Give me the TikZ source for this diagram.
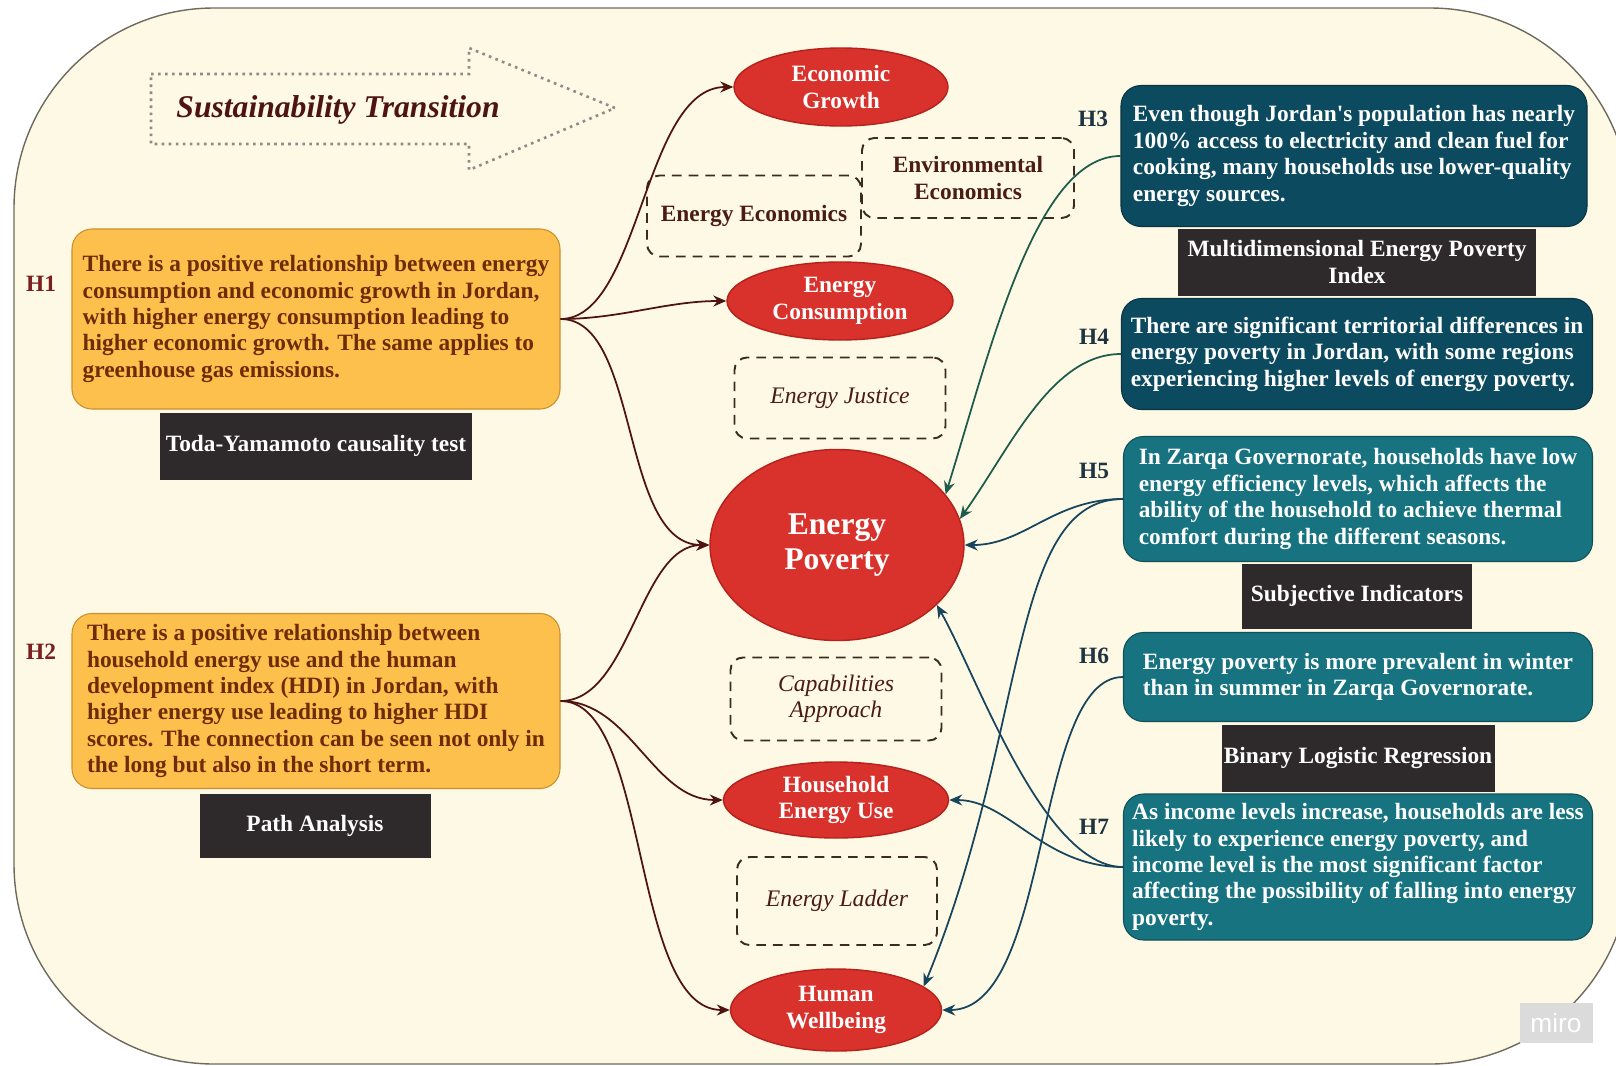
\documentclass[tikz,border=0pt]{standalone}
\usepackage{fontspec}
\setmainfont{Liberation Serif}
\newfontfamily\wmfont{Liberation Sans}
\usetikzlibrary{shapes.geometric, arrows.meta, calc}

\definecolor{cream}{HTML}{FEF9E4}
\definecolor{framecol}{HTML}{6E6A5E}
\definecolor{conceptred}{HTML}{D9312B}
\definecolor{conceptedge}{HTML}{B3221D}
\definecolor{hyporange}{HTML}{FDC04D}
\definecolor{hypedge}{HTML}{C98F2E}
\definecolor{hyptext}{HTML}{6E2C06}
\definecolor{darkteal}{HTML}{0C4A5F}
\definecolor{midteal}{HTML}{17737F}
\definecolor{methodcol}{HTML}{2E2A2B}
\definecolor{linkmaroon}{HTML}{4E1410}
\definecolor{linkgreen}{HTML}{1D5C4C}
\definecolor{linkblue}{HTML}{17455E}
\definecolor{dashcol}{HTML}{3B2B22}
\definecolor{theorytext}{HTML}{4A1C12}
\definecolor{hlabelL}{HTML}{7A1F1F}
\definecolor{hlabelR}{HTML}{1E3440}

\def\pxu{0.2mm}
\def\bodyfont{\fontsize{13.3}{15}\selectfont\bfseries}

\tikzset{
  hyp/.style={draw=hypedge, line width=0.6pt, fill=hyporange, rounded corners=4mm,
    align=left, text=hyptext, font=\bodyfont, inner sep=0pt, minimum width=488*\pxu},
  hypR/.style={draw=darkteal!70!black, line width=0.6pt, fill=darkteal, rounded corners=4mm,
    align=left, text=white, font=\bodyfont, inner sep=0pt},
  method/.style={fill=methodcol, text=white, font=\bodyfont, align=center, inner sep=0pt},
  concept/.style={ellipse, draw=conceptedge, line width=0.8pt, fill=conceptred, text=white,
    font=\bodyfont, align=center, inner sep=0pt, minimum width=214*\pxu, minimum height=78*\pxu},
  theory/.style={draw=dashcol, line width=1.1pt, dash pattern=on 5.5pt off 4pt,
    rounded corners=2.5mm, align=center, text=theorytext, font=\bodyfont, inner sep=0pt},
  hlab/.style={font=\bodyfont},
  lnkL/.style={draw=linkmaroon, line width=1pt, -{Stealth[length=2.6mm,width=2.2mm]}},
  lnkG/.style={draw=linkgreen, line width=1pt, -{Stealth[length=2.6mm,width=2.2mm]}},
  lnkB/.style={draw=linkblue, line width=1pt, -{Stealth[length=2.6mm,width=2.2mm]}}
}

\begin{document}
\begin{tikzpicture}[x=0.2mm, y=-0.2mm]

\useasboundingbox (0,0) rectangle (1616,1065);

% frame
\draw[draw=framecol, line width=0.8pt, fill=cream, rounded corners=40mm] (14,8) rectangle (1630,1064);

% watermark
\node[fill=black!14, text=white, font=\wmfont\fontsize{15}{15}\selectfont,
  minimum width=73*\pxu, minimum height=40*\pxu, inner sep=0pt] (miro) at (1556,1023) {miro};

% transition arrow
\draw[draw=black!45, line width=1.5pt, dash pattern=on 1.5pt off 2.5pt]
  (151,74) -- (469,74) -- (469,48) -- (615,108) -- (469,170) -- (469,144) -- (151,144) -- cycle;
\node[text=linkmaroon, font=\fontsize{18}{20}\selectfont\bfseries\itshape] (trans) at (338,110) {Sustainability Transition};

% methods (behind the hypotheses)
\node[method, minimum width=312*\pxu, minimum height=67*\pxu] (toda) at (316,446) {Toda-Yamamoto causality test};
\node[method, minimum width=231*\pxu, minimum height=64*\pxu] (patha) at (315,826) {Path Analysis};
\node[method, minimum width=358*\pxu, minimum height=67*\pxu] (mepi) at (1357,262) {Multidimensional Energy Poverty\\Index};
\node[method, minimum width=230*\pxu, minimum height=65*\pxu] (subj) at (1357,596) {Subjective Indicators};
\node[method, minimum width=273*\pxu, minimum height=67*\pxu] (blr) at (1358,758) {Binary Logistic Regression};

% hypotheses, left
\node[hyp, minimum height=180*\pxu] (h1) at (316,319) {There is a positive relationship between energy\\consumption and economic growth in Jordan,\\with higher energy consumption leading to\\higher economic growth. The same applies to\\greenhouse gas emissions.};
\node[hyp, minimum height=175*\pxu] (h2) at (316,701) {There is a positive relationship between\\household energy use and the human\\development index (HDI) in Jordan, with\\higher energy use leading to higher HDI\\scores. The connection can be seen not only in\\the long but also in the short term.};

% hypotheses, right
\node[hypR, minimum width=466*\pxu, minimum height=141*\pxu] (h3) at (1354,156) {Even though Jordan\textquotesingle s population has nearly\\100\% access to electricity and clean fuel for\\cooking, many households use lower-quality\\energy sources.};
\node[hypR, minimum width=471*\pxu, minimum height=111*\pxu] (h4) at (1357,354) {There are significant territorial differences in\\energy poverty in Jordan, with some regions\\experiencing higher levels of energy poverty.};
\node[hypR, fill=midteal, draw=midteal!70!black, minimum width=469*\pxu, minimum height=125*\pxu] (h5) at (1358,499) {In Zarqa Governorate, households have low\\energy efficiency levels, which affects the\\ability of the household to achieve thermal\\comfort during the different seasons.};
\node[hypR, fill=midteal, draw=midteal!70!black, minimum width=469*\pxu, minimum height=89*\pxu] (h6) at (1358,677) {Energy poverty is more prevalent in winter\\than in summer in Zarqa Governorate.};
\node[hypR, fill=midteal, draw=midteal!70!black, minimum width=469*\pxu, minimum height=146*\pxu] (h7) at (1358,867) {As income levels increase, households are less\\likely to experience energy poverty, and\\income level is the most significant factor\\affecting the possibility of falling into energy\\poverty.};

% labels
\node[hlab, text=hlabelL] (lh1) at (41,284) {H1};
\node[hlab, text=hlabelL] (lh2) at (41,652) {H2};
\node[hlab, text=hlabelR] (lh3) at (1093,119) {H3};
\node[hlab, text=hlabelR] (lh4) at (1094,337) {H4};
\node[hlab, text=hlabelR] (lh5) at (1094,471) {H5};
\node[hlab, text=hlabelR] (lh6) at (1094,656) {H6};
\node[hlab, text=hlabelR] (lh7) at (1094,827) {H7};

% theories
\node[theory, minimum width=214*\pxu, minimum height=81*\pxu] (enecon) at (754,216) {Energy Economics};
\node[theory, minimum width=212*\pxu, minimum height=80*\pxu] (envecon) at (968,178) {Environmental\\Economics};
\node[theory, font=\fontsize{13.5}{15}\selectfont\itshape, minimum width=211*\pxu, minimum height=81*\pxu] (justice) at (840,398) {Energy Justice};
\node[theory, font=\fontsize{13.5}{15}\selectfont\itshape, minimum width=211*\pxu, minimum height=83*\pxu] (capab) at (836,699) {Capabilities\\Approach};
\node[theory, font=\fontsize{13.5}{15}\selectfont\itshape, minimum width=200*\pxu, minimum height=88*\pxu] (ladder) at (837,901) {Energy Ladder};

% concepts
\node[concept] (eg) at (841,87) {Economic\\Growth};
\node[concept, minimum width=226*\pxu] (ec) at (840,301) {Energy\\Consumption};
\node[concept, minimum width=254*\pxu, minimum height=191*\pxu, font=\fontsize{18}{20}\selectfont\bfseries] (ep) at (837,545) {Energy\\Poverty};
\node[concept, minimum width=225*\pxu, minimum height=76*\pxu] (heu) at (836,800) {Household\\Energy Use};
\node[concept, minimum width=211*\pxu, minimum height=82*\pxu] (hw) at (836,1010) {Human\\Wellbeing};

% links, left
\draw[lnkL] (h1.east) .. controls +(80,0) and +(-90,0) .. (eg.west);
\draw[lnkL] (h1.east) .. controls +(60,0) and +(-60,0) .. (ec.west);
\draw[lnkL] (h1.east) .. controls +(80,0) and +(-90,0) .. (ep.west);
\draw[lnkL] (h2.east) .. controls +(70,0) and +(-70,0) .. (ep.west);
\draw[lnkL] (h2.east) .. controls +(70,0) and +(-70,0) .. (heu.west);
\draw[lnkL] (h2.east) .. controls +(90,0) and +(-100,0) .. (hw.west);

% links, right
\draw[lnkG] (h3.west) .. controls +(-85,0) and +(45,-145) .. (ep.25);
\draw[lnkG] (h4.west) .. controls +(-70,0) and +(50,-70) .. (ep.12);
\draw[lnkB] (h5.west) .. controls +(-70,0) and +(60,0) .. (ep.east);
\draw[lnkB] (h5.west) .. controls +(-115,0) and +(105,-255) .. (hw.15);
\draw[lnkB] (h6.west) .. controls +(-90,0) and +(110,0) .. (hw.east);
\draw[lnkB] (h7.west) .. controls +(-80,0) and +(40,70) .. (ep.-31);
\draw[lnkB] (h7.west) .. controls +(-80,0) and +(60,0) .. (heu.east);

\end{tikzpicture}
\end{document}
